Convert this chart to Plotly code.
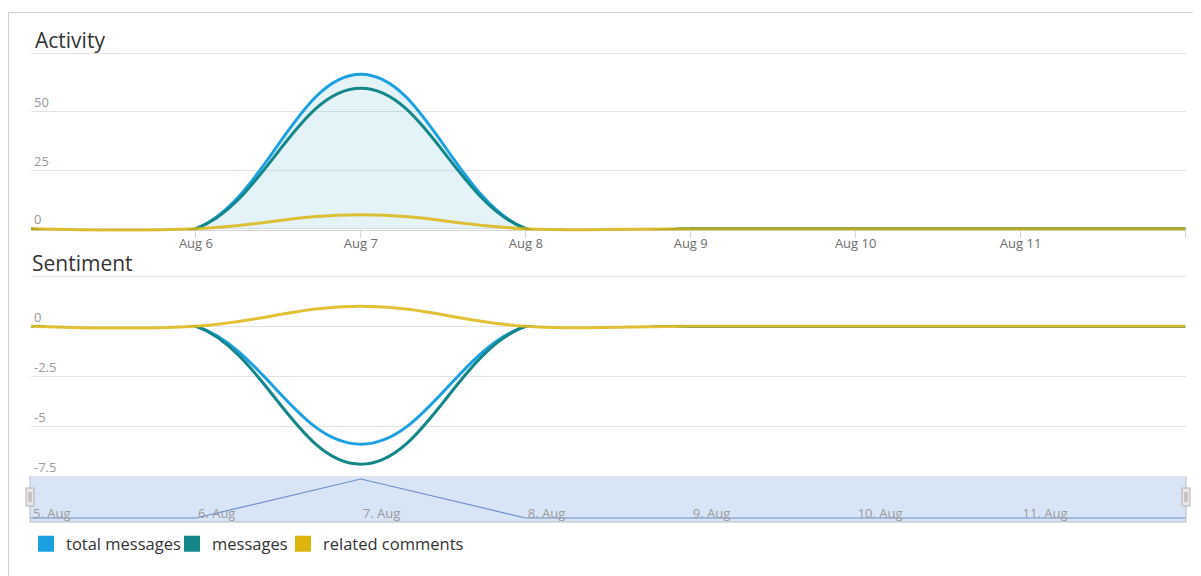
import plotly.graph_objects as go

# page has an 8px body margin; figure is sized so that screen pixels map directly
OFF = 8
W, H = 1201 - OFF, 576 - OFF

# ---------------- data ----------------
dates = ["2016-08-05", "2016-08-06", "2016-08-07", "2016-08-08",
         "2016-08-09", "2016-08-10", "2016-08-11", "2016-08-12"]
series_names = ["total messages", "messages", "related comments"]
series_colors = ["#1ba1e2", "#14878a", "#dcb40c"]

activity_total = [0, 0, 66, 0, 0, 0, 0, 0]
activity_messages = [0, 0, 60, 0, 0, 0, 0, 0]
activity_related = [0, 0, 6, 0, 0, 0, 0, 0]

sentiment_total = [0, 0, -5.9, 0, 0, 0, 0, 0]
sentiment_messages = [0, 0, -6.9, 0, 0, 0, 0, 0]
sentiment_related = [0, 0, 1.0, 0, 0, 0, 0, 0]

activity_ticks = [0, 25, 50, 75]
activity_ticktext = ["0", "25", "50", ""]
sentiment_neg_ticks = [-2.5, -5, -7.5]
sentiment_neg_ticktext = ["-2.5", "-5", "-7.5"]
sentiment_pos_ticks = [0, 2.5]
sentiment_pos_ticktext = ["0", ""]
main_xticks = dates
main_xticktext = ["", "Aug 6", "Aug 7", "Aug 8", "Aug 9", "Aug 10", "Aug 11", ""]
nav_xticks = dates[:-1]
nav_xticktext = ["5. Aug", "6. Aug", "7. Aug", "8. Aug", "9. Aug", "10. Aug", "11. Aug"]

# ---------------- geometry helpers (screen pixels -> paper) ----------------
def px(x):
    return (x - OFF) / W

def py(y):
    return 1 - (y - OFF) / H

FONT = "Open Sans"
X_DOM = [px(31), px(1185.5)]
X_RANGE = [dates[0], dates[-1]]

# activity scale
A_ZERO, A_K, A_TOP = 228.7, 2.34, 50
# sentiment scale
S_ZERO, S_K, S_BOT, S_TOP = 326.2, 20.0, 478, 273
# navigator geometry
N_TOP, N_BOT, N_AXIS, N_ZERO, N_PEAK_PX = 476.5, 522, 527, 518, 479
N_K = (N_ZERO - N_PEAK_PX) / max(activity_total)

SMOOTH = 1.15
LW = 3
REL_OPACITY = 0.82

fig = go.Figure()

# ---- Activity ----
fig.add_trace(go.Scatter(x=dates, y=activity_total, xaxis="x", yaxis="y",
                         mode="lines", name=series_names[0], showlegend=False,
                         line=dict(color=series_colors[0], width=LW, shape="spline", smoothing=SMOOTH),
                         fill="tozeroy", fillcolor="rgba(100,190,210,0.18)"))
fig.add_trace(go.Scatter(x=dates, y=activity_messages, xaxis="x", yaxis="y",
                         mode="lines", name=series_names[1], showlegend=False,
                         line=dict(color=series_colors[1], width=LW, shape="spline", smoothing=SMOOTH)))
fig.add_trace(go.Scatter(x=dates, y=activity_related, xaxis="x", yaxis="y5",
                         mode="lines", name=series_names[2], showlegend=False, opacity=REL_OPACITY,
                         line=dict(color=series_colors[2], width=LW, shape="spline", smoothing=SMOOTH)))

# ---- Sentiment ----
fig.add_trace(go.Scatter(x=dates, y=sentiment_total, xaxis="x2", yaxis="y2",
                         mode="lines", name=series_names[0], showlegend=False,
                         line=dict(color=series_colors[0], width=LW, shape="spline", smoothing=SMOOTH)))
fig.add_trace(go.Scatter(x=dates, y=sentiment_messages, xaxis="x2", yaxis="y2",
                         mode="lines", name=series_names[1], showlegend=False,
                         line=dict(color=series_colors[1], width=LW, shape="spline", smoothing=SMOOTH)))
fig.add_trace(go.Scatter(x=dates, y=sentiment_related, xaxis="x2", yaxis="y3",
                         mode="lines", name=series_names[2], showlegend=False, opacity=REL_OPACITY,
                         line=dict(color=series_colors[2], width=LW, shape="spline", smoothing=SMOOTH)))

# ---- Navigator ----
fig.add_trace(go.Scatter(x=dates, y=activity_total, xaxis="x3", yaxis="y4",
                         mode="lines", name="navigator", showlegend=False, hoverinfo="skip",
                         line=dict(color="#6f8fca", width=1.2)))

# ---- Legend entries (one legend per item, placed like the original) ----
legend_keys = ["legend", "legend2", "legend3"]
legend_sym_centers = [46, 192, 303]
for nm, col, lk in zip(series_names, series_colors, legend_keys):
    fig.add_trace(go.Scatter(x=[None], y=[None], xaxis="x", yaxis="y", mode="markers",
                             name=nm, legend=lk,
                             marker=dict(symbol="square", size=16, color=col)))

grid = "#e3e3e3"
ylab = dict(family=FONT, size=13, color="#999999")

def legend_box(cx):
    return dict(orientation="h", x=px(cx - 20), y=py(544), xanchor="left", yanchor="middle",
                font=dict(family=FONT, size=16.5, color="#333333"), bgcolor="rgba(0,0,0,0)",
                itemwidth=30)

layout = dict(
    width=W, height=H, margin=dict(l=0, r=0, t=0, b=0),
    paper_bgcolor="white", plot_bgcolor="rgba(0,0,0,0)",
    font=dict(family=FONT, color="#333333"),
    showlegend=True,
    legend=legend_box(legend_sym_centers[0]),
    legend2=legend_box(legend_sym_centers[1]),
    legend3=legend_box(legend_sym_centers[2]),
    xaxis=dict(domain=X_DOM, range=X_RANGE, type="date", anchor="y",
               tickvals=main_xticks, ticktext=main_xticktext,
               ticks="outside", ticklen=7, tickcolor="#d4d4d4",
               ticklabelstandoff=-6,
               showline=True, linecolor="#d4d4d4", linewidth=1,
               showgrid=False, zeroline=False,
               tickfont=dict(family=FONT, size=13, color="#6e6e6e")),
    yaxis=dict(domain=[py(A_ZERO + 1.6), py(A_TOP)],
               range=[-1.6 / A_K, (A_ZERO - A_TOP) / A_K],
               tickvals=activity_ticks, ticktext=activity_ticktext,
               ticklabelposition="inside top", ticklabelstandoff=0,
               showgrid=True, gridcolor=grid, zeroline=False, showline=False,
               tickfont=ylab, anchor="x"),
    yaxis5=dict(domain=[py(A_ZERO + 4), py(A_TOP)],
                range=[-4 / A_K, (A_ZERO - A_TOP) / A_K],
                visible=False, anchor="x"),
    xaxis2=dict(domain=X_DOM, range=X_RANGE, type="date", anchor="y2", matches="x",
                showticklabels=False, showgrid=False, zeroline=False, showline=False, ticks=""),
    yaxis2=dict(domain=[py(S_BOT), py(S_ZERO - 0.6)],
                range=[-(S_BOT - S_ZERO) / S_K, 0.6 / S_K],
                tickvals=sentiment_neg_ticks, ticktext=sentiment_neg_ticktext,
                ticklabelposition="inside top", ticklabelstandoff=0,
                showgrid=True, gridcolor=grid, zeroline=False, showline=False,
                tickfont=ylab, anchor="x2"),
    yaxis3=dict(domain=[py(S_ZERO + 4), py(S_TOP)],
                range=[-4 / S_K, (S_ZERO - S_TOP) / S_K],
                tickvals=sentiment_pos_ticks, ticktext=sentiment_pos_ticktext,
                ticklabelposition="inside top", ticklabelstandoff=0,
                showgrid=True, gridcolor=grid, zeroline=False, showline=False,
                tickfont=ylab, anchor="x2"),
    xaxis3=dict(domain=X_DOM, range=X_RANGE, type="date", anchor="y4",
                tickvals=nav_xticks, ticktext=nav_xticktext,
                ticklabelposition="inside right", ticklabelshift=2, ticks="",
                showgrid=False, zeroline=False, showline=False,
                tickfont=dict(family=FONT, size=13, color="#9a9a9a")),
    yaxis4=dict(domain=[py(N_AXIS), py(N_TOP)],
                range=[-(N_AXIS - N_ZERO) / N_K,
                       max(activity_total) + (N_PEAK_PX - N_TOP) / N_K],
                visible=False, anchor="x3"),
    annotations=[
        dict(text="Activity", x=px(33), y=py(40), xref="paper", yref="paper",
             xanchor="left", yanchor="middle", showarrow=False,
             font=dict(family=FONT, size=21, color="#333333")),
        dict(text="Sentiment", x=px(30), y=py(263), xref="paper", yref="paper",
             xanchor="left", yanchor="middle", showarrow=False,
             font=dict(family=FONT, size=21, color="#333333")),
    ],
    shapes=[
        # outer border
        dict(type="rect", xref="paper", yref="paper", x0=px(8.5), x1=px(1230),
             y0=py(12.5), y1=py(620), line=dict(color="#cfcfcf", width=1),
             fillcolor="rgba(0,0,0,0)", layer="below"),
        # navigator mask
        dict(type="rect", xref="paper", yref="paper", x0=px(30), x1=px(1186),
             y0=py(N_TOP), y1=py(N_BOT), line=dict(color="#b8b8c0", width=1),
             fillcolor="#d8e5f6", layer="below"),
        # handles
        dict(type="rect", xref="paper", yref="paper", x0=px(26), x1=px(34),
             y0=py(488), y1=py(506), line=dict(color="#b2b1b6", width=1),
             fillcolor="#ebe7e8", layer="above"),
        dict(type="line", xref="paper", yref="paper", x0=px(29), x1=px(29),
             y0=py(492), y1=py(502), line=dict(color="#a0a0a0", width=1), layer="above"),
        dict(type="line", xref="paper", yref="paper", x0=px(31), x1=px(31),
             y0=py(492), y1=py(502), line=dict(color="#a0a0a0", width=1), layer="above"),
        dict(type="rect", xref="paper", yref="paper", x0=px(1182), x1=px(1190),
             y0=py(488), y1=py(506), line=dict(color="#b2b1b6", width=1),
             fillcolor="#ebe7e8", layer="above"),
        dict(type="line", xref="paper", yref="paper", x0=px(1185), x1=px(1185),
             y0=py(492), y1=py(502), line=dict(color="#a0a0a0", width=1), layer="above"),
        dict(type="line", xref="paper", yref="paper", x0=px(1187), x1=px(1187),
             y0=py(492), y1=py(502), line=dict(color="#a0a0a0", width=1), layer="above"),
    ],
)
fig.update_layout(**layout)

fig.write_html("out.html")
